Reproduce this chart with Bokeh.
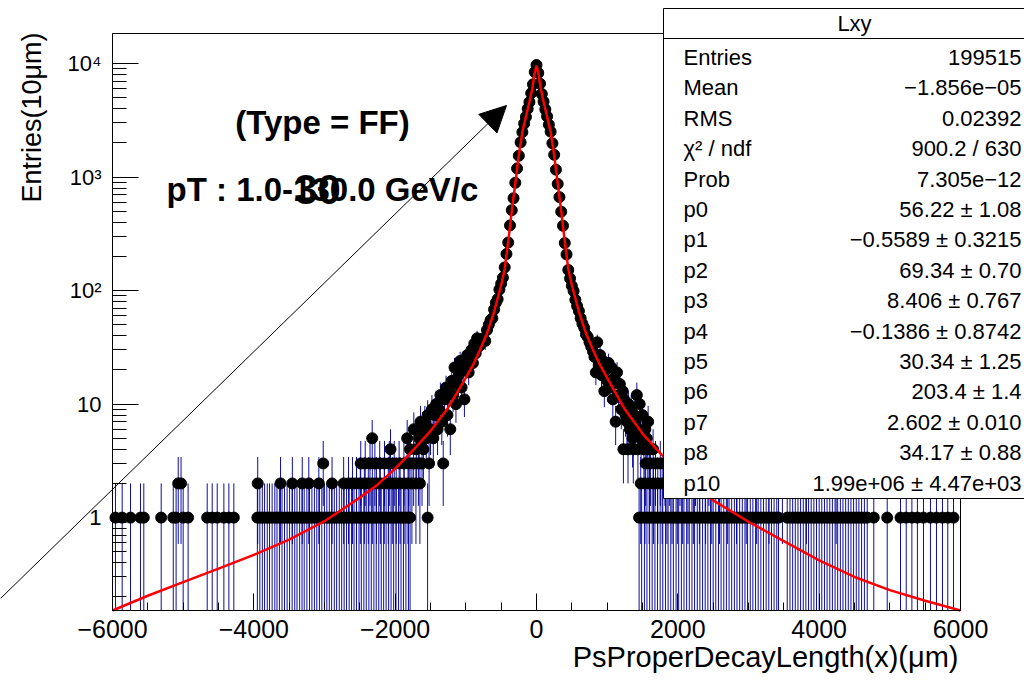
import math
import numpy as np
from bokeh.plotting import figure
from bokeh.models import Range1d, FixedTicker, Label, BoxAnnotation, Arrow, NormalHead
from bokeh.embed import file_html
from bokeh.resources import INLINE

# ---------------- data ----------------
# fitted function (red curve), x in micrometre
fit_x = [-6000, -5500, -5000, -4500, -4000, -3500, -3000, -2500, -2250, -2000, -1750, -1500,
         -1250, -1000, -900, -800, -700, -600, -500, -450, -400, -350, -300, -250, -200, -150,
         -100, -60, -30, 0, 30, 60, 100, 150, 200, 250, 300, 350, 400, 450, 500, 600, 700,
         800, 900, 1000, 1250, 1500, 1750, 2000, 2250, 2500, 3000, 3500, 4000, 4500, 5000,
         5500, 6000]
fit_y = [0.152, 0.205, 0.27, 0.355, 0.47, 0.64, 0.93, 1.5, 1.95, 2.7, 3.9, 5.8,
         9.3, 17, 22, 30, 42, 65, 112, 155, 270, 500, 880, 1560, 2500, 3400,
         4600, 6000, 8000, 9600, 8000, 6000, 4600, 3400, 2500, 1560, 880, 500, 270, 155, 112, 65, 42,
         30, 22, 17, 9.0, 5.5, 3.7, 2.6, 1.9, 1.42, 0.92, 0.62, 0.42, 0.30, 0.23,
         0.185, 0.152]

# central peak (bin centre, entries)
core_x = [-800, -775, -750, -725, -700, -675, -650, -625, -600, -575, -550, -525, -500, -475,
          -450, -425, -400, -375, -350, -325, -300, -275, -250, -225, -200, -175, -150, -125,
          -100, -75, -50, -25, 0, 25, 50, 75, 100, 125, 150, 175, 200, 225, 250, 275, 300,
          325, 350, 375, 400, 425, 450, 475, 500, 525, 550, 575, 600, 625, 650, 675, 700,
          725, 750, 775, 800]
core_n = [33, 35, 38, 36, 45, 50, 55, 57, 68, 78, 84, 102, 115, 130,
          160, 210, 265, 375, 510, 650, 890, 1190, 1540, 2020, 2480, 2950, 3380, 3990,
          4570, 5480, 6560, 8400, 9700, 8250, 6640, 5390, 4620, 3940, 3420, 2890, 2510, 1980, 1570, 1160, 870,
          665, 495, 372, 262, 208, 152, 128, 110, 99, 83, 73, 66, 57, 51, 47, 41,
          39, 35, 32, 29]

# shoulders
left_sh_x = [-1600, -1580, -1560, -1540, -1520, -1500, -1480, -1460, -1440, -1420, -1400, -1380,
             -1360, -1340, -1320, -1300, -1280, -1260, -1240, -1220, -1200, -1180, -1160, -1140,
             -1120, -1100, -1080, -1060, -1040, -1020, -1000, -980, -960, -940, -920, -900, -880,
             -860, -840, -820]
left_sh_n = [4, 7, 5, 8, 3, 6, 9, 5, 8, 10, 6, 9, 12, 7, 3, 11, 14, 8, 13, 6, 16, 12, 21, 10,
             15, 18, 24, 14, 20, 11, 22, 27, 19, 25, 30, 23, 34, 28, 38, 32]
right_sh_x = [820, 840, 860, 880, 900, 920, 940, 960, 980, 1000, 1020, 1040, 1060, 1080, 1100,
              1120, 1140, 1160, 1180, 1200, 1220, 1240, 1260, 1280, 1300, 1320, 1340, 1360, 1380,
              1400, 1420, 1440, 1460, 1480, 1500, 1520, 1540, 1560, 1580, 1600]
right_sh_n = [26, 19, 35, 22, 27, 18, 24, 13, 20, 16, 23, 14, 21, 11, 17, 7, 19, 12, 15, 9,
              13, 11, 8, 7, 10, 6, 9, 5, 8, 7, 12, 6, 10, 5, 8, 4, 6, 5, 7, 4]

# tails: bins holding 1, 2, 3 ... entries
ones_x = [-5958, -5863, -5745, -5604, -5557, -5311, -5140, -5100, -5000, -4930, -4660, -4589,
          -4518, -4424, -4353, -4283, -3950, -3915, -3880, -3848, -3810, -3778, -3741, -3703,
          -3672, -3638, -3601, -3566, -3529, -3494, -3458, -3421, -3389, -3352, -3318, -3287,
          -3249, -3212, -3178, -3143, -3109, -3072, -3038, -3001, -2967, -2932, -2899, -2861,
          -2828, -2791, -2757, -2722, -2688, -2651, -2617, -2582, -2548, -2512, -2479, -2443,
          -2409, -2372, -2338, -2301, -2268, -2232, -2197, -2163, -2128, -2092, -2058, -2021,
          -1988, -1952, -1917, -1883, -1848, -1812, -1789, -1541,
          1452, 1488, 1527, 1563, 1601, 1637, 1676, 1712, 1750, 1787, 1825, 1862, 1900, 1937,
          1975, 2012, 2050, 2087, 2125, 2162, 2200, 2237, 2275, 2312, 2350, 2387, 2425, 2462,
          2500, 2537, 2575, 2612, 2650, 2687, 2725, 2762, 2800, 2837, 2875, 2912, 2950, 2987,
          3025, 3062, 3100, 3137, 3175, 3212, 3250, 3287, 3325, 3362, 3400, 3425, 3548, 3587,
          3625, 3662, 3700, 3737, 3775, 3812, 3850, 3887, 3925, 3962, 4000, 4037, 4075, 4112,
          4150, 4187, 4225, 4262, 4300, 4337, 4375, 4412, 4450, 4487, 4525, 4562, 4600, 4640,
          4680, 4773, 4963, 5151, 5232, 5312, 5390, 5476, 5575, 5660, 5745, 5820, 5901]
twos_x = [-5070, -5030, -3945, -3622, -3455, -3315, -3222, -3080, -2893, -2729, -2660, -2604,
          -2547, -2493, -2436, -2380, -2323, -2265, -2210, -2154, -2097, -2041, -1985, -1930,
          -1873, -1818, -1763, -1706, -1650,
          1475, 1535, 1594, 1655, 1716, 1778, 1845, 1918, 1993, 2068, 2143, 2220, 2305, 2393,
          2480, 2590, 2705, 2830, 2968, 3115, 3290, 3480, 3820, 4240]
threes_x = [-3018, -2487, -2424, -2356, -2287, -2219, -2151, -2083, -2013, -1944, -1876, -1807,
            -1739, -1671, -1620, 1545, 1612, 1684, 1752, 1818, 1880, 2030, 2250, 2440]
fours_x = [-2066, -1790, -1700, 1230, 1295, 1370, 1435, 1575, 1650]
fives_x = [-2325, -1830, -1660]
sixes_x = [-1736, -1610]
sevens_x = [-1641]

x_ticks = [-6000, -4000, -2000, 0, 2000, 4000, 6000]
x_tick_labels = ["\u22126000", "\u22124000", "\u22122000", "0", "2000", "4000", "6000"]
y_ticks = [1, 10, 100, 1000, 10000]
y_tick_labels = ["1", "10", "10\u00b2", "10\u00b3", "10\u2074"]

stat_names = ["Entries", "Mean", "RMS", "\u03c7\u00b2 / ndf", "Prob", "p0", "p1", "p2", "p3",
              "p4", "p5", "p6", "p7", "p8", "p10"]
stat_values = ["199515", "\u22121.856e\u221205", "0.02392", "900.2 / 630", "7.305e\u221212",
               "56.22 \u00b1 1.08", "\u22120.5589 \u00b1 0.3215", "69.34 \u00b1 0.70",
               "8.406 \u00b1 0.767", "\u22120.1386 \u00b1 0.8742", "30.34 \u00b1 1.25",
               "203.4 \u00b1 1.4", "2.602 \u00b1 0.010", "34.17 \u00b1 0.88",
               "1.99e+06 \u00b1 4.47e+03"]

# ---------------- histogram ----------------
X_MIN, X_MAX = -6000, 6000
Y_MIN, Y_MAX = 0.152, 18370

xs = core_x + left_sh_x + right_sh_x + ones_x + twos_x + threes_x + fours_x + fives_x + sixes_x + sevens_x
ns = (core_n + left_sh_n + right_sh_n + [1] * len(ones_x) + [2] * len(twos_x) + [3] * len(threes_x)
      + [4] * len(fours_x) + [5] * len(fives_x) + [6] * len(sixes_x) + [7] * len(sevens_x))
ns_a = np.array(ns, dtype=float)
err = np.sqrt(ns_a)
lo = np.maximum(ns_a - err, Y_MIN)   # error bars are cut at the frame bottom
hi = ns_a + err

# ---------------- layout helpers (canvas pixels -> data) ----------------
W, H = 1024, 674
FL, FR, FT, FB = 112, 960, 33, 610   # frame edges in canvas pixels


def dx(px):
    return X_MIN + (px - FL) * (X_MAX - X_MIN) / (FR - FL)


def dy(py):
    a, b = math.log10(Y_MIN), math.log10(Y_MAX)
    return 10 ** (a + (FB - py) * (b - a) / (FB - FT))


# the plotting area covers the whole canvas; the axes are pinned to the frame edges
p = figure(width=W, height=H, x_range=Range1d(dx(0), dx(W)), y_range=Range1d(dy(H), dy(0)),
           y_axis_type="log", output_backend="svg", toolbar_location=None,
           min_border=0, title_location=None)
p.background_fill_color = "white"
p.border_fill_color = "white"
p.outline_line_color = None
p.xgrid.visible = False
p.ygrid.visible = False

p.segment(x0=xs, y0=lo, x1=xs, y1=hi, line_color="#00009c", line_width=1, line_alpha=0.95)
p.scatter(xs, ns, size=11, marker="circle", fill_color="black", line_color="black")
p.line(fit_x, fit_y, line_color="#ff0000", line_width=2.5)

# axes
p.xaxis.fixed_location = Y_MIN
p.yaxis.fixed_location = X_MIN
p.xaxis.bounds = (X_MIN, X_MAX)
p.yaxis.bounds = (Y_MIN, Y_MAX)
p.xaxis.ticker = FixedTicker(ticks=x_ticks, minor_ticks=[v for v in range(X_MIN, X_MAX + 1, 500)])
minor_y = [k * 10.0 ** e for e in range(-1, 5) for k in range(2, 10) if Y_MIN <= k * 10.0 ** e <= Y_MAX]
p.yaxis.ticker = FixedTicker(ticks=y_ticks, minor_ticks=minor_y)
p.xaxis.major_label_overrides = dict(zip(x_ticks, x_tick_labels))
p.yaxis.major_label_overrides = dict(zip(y_ticks, y_tick_labels))
for ax in (p.xaxis[0], p.yaxis[0]):
    ax.axis_line_color = "black"
    ax.major_tick_line_color = "black"
    ax.minor_tick_line_color = "black"
    ax.major_tick_out = 0
    ax.minor_tick_out = 0
    ax.major_label_text_color = "black"
    ax.major_label_text_font = "Liberation Sans"
p.xaxis.major_tick_in = 17
p.xaxis.minor_tick_in = 8
p.yaxis.major_tick_in = 26
p.yaxis.minor_tick_in = 14
p.xaxis.major_label_text_font_size = "25px"
p.yaxis.major_label_text_font_size = "22px"
p.xaxis.major_label_standoff = 9
p.yaxis.major_label_standoff = 11

# frame
p.add_layout(BoxAnnotation(left=X_MIN, right=X_MAX, bottom=Y_MIN, top=Y_MAX, fill_color=None,
                           line_color="black", line_width=1, line_alpha=1.0))

FONT = "Liberation Sans"
p.add_layout(Label(x=dx(958), y=dy(656), text="PsProperDecayLength(x)(\u03bcm)", text_align="right",
                   text_baseline="middle", text_font=FONT, text_font_size="29px", text_color="black"))
p.add_layout(Label(x=dx(31), y=dy(117), text="Entries(10\u03bcm)", angle=math.pi / 2, text_align="center",
                   text_baseline="middle", text_font=FONT, text_font_size="27px", text_color="black"))

# annotations on the pad
p.add_layout(Label(x=dx(322), y=dy(122), text="(Type = FF)", text_align="center", text_baseline="middle",
                   text_font=FONT, text_font_style="bold", text_font_size="33px", text_color="black"))
p.add_layout(Label(x=dx(322), y=dy(189), text="pT : 1.0-130.0 GeV/c", text_align="center",
                   text_baseline="middle", text_font=FONT, text_font_style="bold",
                   text_font_size="33px", text_color="black"))
p.add_layout(Label(x=dx(317), y=dy(189), text="30", text_align="center", text_baseline="middle",
                   text_font=FONT, text_font_style="bold", text_font_size="42px", text_color="black"))
p.add_layout(Arrow(end=NormalHead(size=26, fill_color="black", line_color="black", line_width=1),
                   x_start=dx(0), y_start=dy(598), x_end=dx(506), y_end=dy(105),
                   line_color="black", line_width=1))

# statistics box
BL, BR, BT, BB = 663, 1045, 8, 498
p.add_layout(BoxAnnotation(left=dx(BL), right=dx(BR), top=dy(BT), bottom=dy(BB), fill_color="white",
                           fill_alpha=1.0, line_color="black", line_width=1, line_alpha=1.0))
p.add_layout(Arrow(end=None, x_start=dx(BL), y_start=dy(38), x_end=dx(BR), y_end=dy(38),
                   line_color="black", line_width=1))
p.add_layout(Label(x=dx((BL + BR) / 2), y=dy(23), text="Lxy", text_align="center", text_baseline="middle",
                   text_font=FONT, text_font_size="22px", text_color="black"))
for i, (nm, val) in enumerate(zip(stat_names, stat_values)):
    yy = dy(57 + i * 30.4)
    p.add_layout(Label(x=dx(683), y=yy, text=nm, text_align="left", text_baseline="middle",
                       text_font=FONT, text_font_size="22px", text_color="black"))
    p.add_layout(Label(x=dx(1021), y=yy, text=val, text_align="right", text_baseline="middle",
                       text_font=FONT, text_font_size="22px", text_color="black"))

open("out.html", "w").write(file_html(p, INLINE))
